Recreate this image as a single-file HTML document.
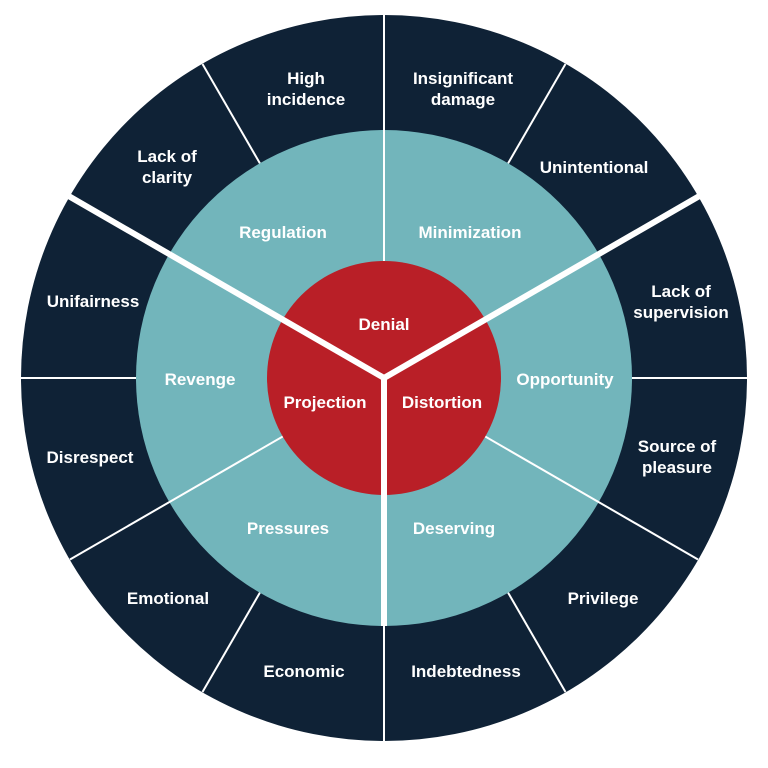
<!DOCTYPE html>
<html><head><style>
html,body{margin:0;padding:0;background:#fff;}
svg{display:block}
text{font-family:"Liberation Sans",sans-serif;font-size:17px;font-weight:bold;fill:#fff;text-anchor:middle;}
</style></head><body>
<svg width="768" height="768" viewBox="0 0 768 768">
<g transform="translate(384,378)">
<circle r="363" fill="#0f2236"/>
<g stroke="#fff" stroke-width="2">
<line x1="0" y1="0" x2="0" y2="-363"/>
<line x1="0" y1="0" x2="363" y2="0"/>
<line x1="0" y1="0" x2="-363" y2="0"/>
<line x1="0" y1="0" x2="181.5" y2="314"/>
<line x1="0" y1="0" x2="-181.5" y2="314"/>
<line x1="0" y1="0" x2="181.5" y2="-314"/>
<line x1="0" y1="0" x2="-181.5" y2="-314"/>
<line x1="0" y1="0" x2="0" y2="363"/>
</g>
<circle r="248" fill="#72b5bb"/>
<g stroke="#fff" stroke-width="2">
<line x1="0" y1="0" x2="0" y2="-248"/>
<line x1="0" y1="0" x2="314" y2="181.5"/>
<line x1="0" y1="0" x2="-314" y2="181.5"/>
</g>
<circle r="117" fill="#b91f27"/>
<g stroke="#fff" stroke-width="6">
<line x1="0" y1="0" x2="318" y2="-183.5"/>
<line x1="0" y1="0" x2="-318" y2="-183.5"/>
<line x1="0" y1="0" x2="0" y2="248"/>
</g>
</g>
<text x="384" y="330">Denial</text>
<text x="325" y="408">Projection</text>
<text x="442" y="408">Distortion</text>
<text x="283" y="238">Regulation</text>
<text x="470" y="238">Minimization</text>
<text x="565" y="385">Opportunity</text>
<text x="200" y="385">Revenge</text>
<text x="288" y="534">Pressures</text>
<text x="454" y="534">Deserving</text>
<text x="306" y="84">High</text>
<text x="306" y="105">incidence</text>
<text x="463" y="84">Insignificant</text>
<text x="463" y="105">damage</text>
<text x="594" y="173">Unintentional</text>
<text x="681" y="297">Lack of</text>
<text x="681" y="318">supervision</text>
<text x="677" y="452">Source of</text>
<text x="677" y="473">pleasure</text>
<text x="603" y="604">Privilege</text>
<text x="466" y="677">Indebtedness</text>
<text x="304" y="677">Economic</text>
<text x="168" y="604">Emotional</text>
<text x="90" y="463">Disrespect</text>
<text x="93" y="307">Unifairness</text>
<text x="167" y="162">Lack of</text>
<text x="167" y="183">clarity</text>
</svg>
</body></html>
